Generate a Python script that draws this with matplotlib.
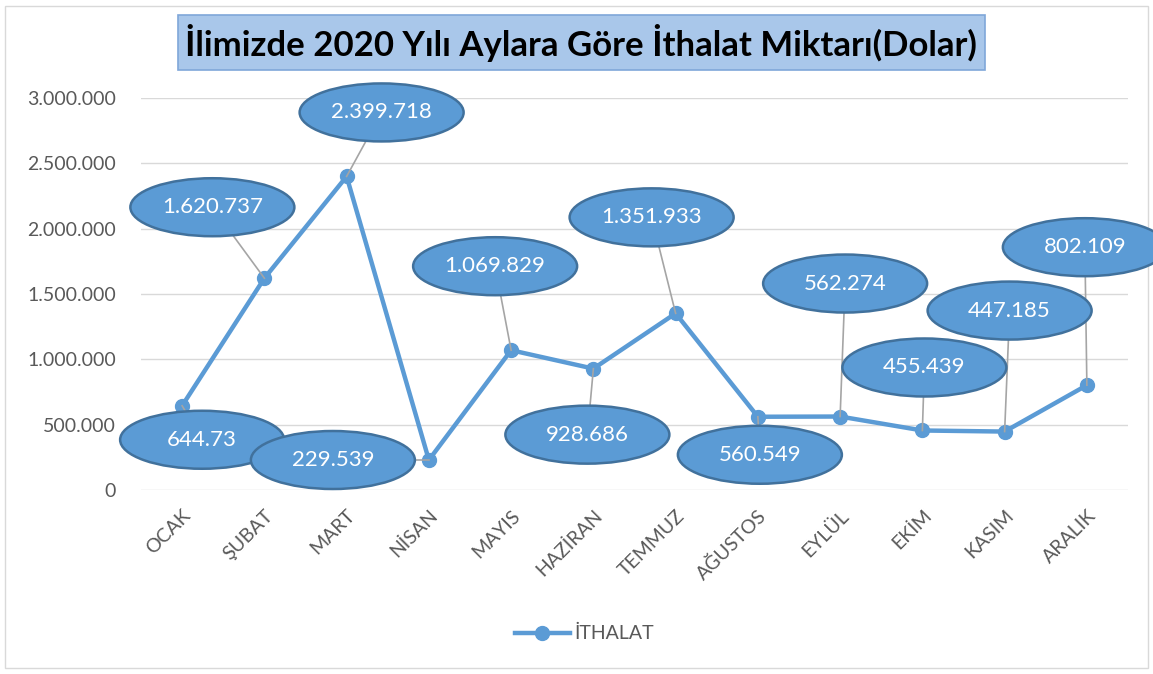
import matplotlib.pyplot as plt
from matplotlib.patches import Ellipse, Rectangle
from matplotlib.lines import Line2D
from matplotlib.ticker import FuncFormatter

# data
months = ["OCAK", "ŞUBAT", "MART", "NİSAN", "MAYIS", "HAZİRAN",
          "TEMMUZ", "AĞUSTOS", "EYLÜL", "EKİM", "KASIM", "ARALIK"]
ithalat = [644730, 1620737, 2399718, 229539, 1069829, 928686,
           1351933, 560549, 562274, 455439, 447185, 802109]
labels = ["644.73", "1.620.737", "2.399.718", "229.539", "1.069.829", "928.686",
          "1.351.933", "560.549", "562.274", "455.439", "447.185", "802.109"]

# label bubble offsets in pixels (dx, dy up)
offsets = [(20, -34), (-52, 71), (35, 64), (-96, 0), (-16, 84), (-6, -66),
           (-24, 96), (2, -38), (5, 133), (2, 63), (5, 121), (-2, 138)]

blue = "#5B9BD5"
gray = "#595959"
plt.rcParams['font.family'] = ['Lato', 'DejaVu Sans']

fig = plt.figure(figsize=(11.53, 6.74), dpi=100)

# outer frame
fig.patches.append(Rectangle((5 / 1153, 6 / 674), 1143 / 1153, 662 / 674,
                             transform=fig.transFigure, fill=False,
                             edgecolor="#D9D9D9", lw=1))

ax = fig.add_axes([141 / 1153, 1 - 490 / 674, 987 / 1153, 392 / 674])
x = list(range(len(months)))
ax.plot(x, ithalat, color=blue, lw=3.2, marker='o', markersize=10, zorder=3,
        clip_on=False)
ax.set_xlim(-0.5, len(months) - 0.5)
ax.set_ylim(0, 3000000)
ax.set_yticks(range(0, 3000001, 500000))
ax.yaxis.set_major_formatter(FuncFormatter(lambda v, p: f"{int(v):,}".replace(",", ".")))
ax.set_xticks(x)
ax.set_xticklabels(months, rotation=45, ha='right', rotation_mode='anchor')
ax.tick_params(axis='y', labelsize=14, colors=gray, length=0, pad=18)
ax.tick_params(axis='x', labelsize=14, colors=gray, length=0, pad=12)
ax.grid(axis='y', color="#D9D9D9", lw=1)
ax.set_axisbelow(True)
for s in ax.spines.values():
    s.set_visible(False)

# bubble labels
for i, v in enumerate(ithalat):
    px, py = ax.transData.transform((i, v))
    cx, cy = px + offsets[i][0], py + offsets[i][1]
    fig.lines.append(Line2D([px, cx], [py, cy], transform=None,
                            color="#A5A5A5", lw=1.2, zorder=2))
    e = Ellipse((cx, cy), 164, 58, transform=None, facecolor=blue,
                edgecolor="#41719C", lw=1.8, zorder=5)
    fig.patches.append(e)
    fig.text(cx / 1153, cy / 674, labels[i], color="white", fontsize=16,
             ha='center', va='center', zorder=6)

# title box
fig.patches.append(Rectangle((178 / 1153, 1 - 70 / 674), 807 / 1153, 55 / 674,
                             transform=fig.transFigure, facecolor="#A9C7EA",
                             edgecolor="#7FA7D9", lw=1.2))
fig.text(581 / 1153, 1 - 43 / 674, "İlimizde 2020 Yılı Aylara Göre İthalat Miktarı(Dolar)",
         ha='center', va='center', fontsize=25, fontweight='bold', color='black')

# legend
fig.lines.append(Line2D([515 / 1153, 570 / 1153], [1 - 633 / 674, 1 - 633 / 674],
                        transform=fig.transFigure, color=blue, lw=3.2))
fig.lines.append(Line2D([542 / 1153], [1 - 633 / 674], transform=fig.transFigure,
                        color=blue, marker='o', markersize=10))
fig.text(574 / 1153, 1 - 633 / 674, "İTHALAT", color=gray, fontsize=14,
         ha='left', va='center')

fig.savefig("out.png", dpi=100)
